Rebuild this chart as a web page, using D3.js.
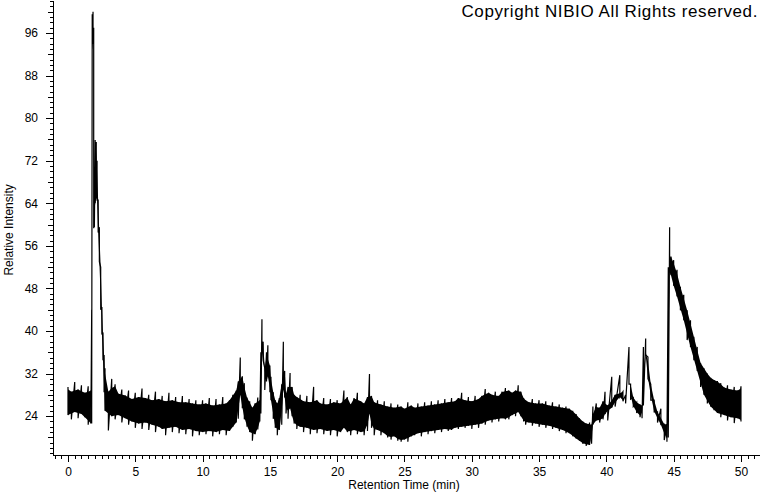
<!doctype html>
<html lang="en">

<head>
    <meta charset="utf-8">
    <title>Chromatogram</title>
    <script src="https://cdn.jsdelivr.net/npm/d3@7"></script>
    <style>
        body { margin: 0; background: #fff; }
        svg text { font-family: "Liberation Sans", Arial, sans-serif; fill: #000; }
    </style>
</head>

<body>
    <svg id="chart" width="760" height="492"></svg>
</body>

<script>
    // retention time (min), upper and lower edge of the noisy trace
    var times = [0.00, 0.25, 0.50, 0.75, 1.00, 1.25, 1.50, 1.70, 1.76, 1.80, 1.86, 1.91, 1.96, 2.02, 2.10, 2.16, 2.24, 2.33, 2.43, 2.52,
        2.60, 2.68, 2.75, 3.00, 3.25, 3.50, 3.75, 4.00, 4.25, 4.50, 4.75, 5.00, 5.25, 5.50, 5.75, 6.00, 6.25, 6.50, 6.75, 7.00,
        7.25, 7.50, 7.75, 8.00, 8.25, 8.50, 8.75, 9.00, 9.25, 9.50, 9.75, 10.00, 10.25, 10.50, 10.75, 11.00, 11.25, 11.50, 11.75, 12.00,
        12.25, 12.50, 12.65, 12.80, 12.95, 13.10, 13.30, 13.50, 13.70, 13.90, 14.10, 14.25, 14.33, 14.41, 14.50, 14.62, 14.75, 14.85, 15.00, 15.08,
        15.25, 15.40, 15.55, 15.70, 15.88, 16.00, 16.10, 16.20, 16.35, 16.50, 16.65, 16.80, 17.00, 17.25, 17.50, 17.75, 18.00, 18.25, 18.50, 18.75,
        19.00, 19.25, 19.50, 19.75, 20.00, 20.25, 20.50, 20.75, 21.00, 21.25, 21.50, 21.75, 22.00, 22.25, 22.40, 22.55, 22.75, 23.00, 23.25, 23.50,
        23.75, 24.00, 24.25, 24.50, 24.75, 25.00, 25.25, 25.50, 25.75, 26.00, 26.25, 26.50, 26.75, 27.00, 27.25, 27.50, 27.75, 28.00, 28.25, 28.50,
        28.75, 29.00, 29.25, 29.50, 29.75, 30.00, 30.25, 30.50, 30.75, 31.00, 31.25, 31.50, 31.75, 32.00, 32.25, 32.50, 32.75, 33.00, 33.25, 33.45,
        33.65, 33.85, 34.00, 34.25, 34.50, 34.75, 35.00, 35.25, 35.50, 35.75, 36.00, 36.25, 36.50, 36.75, 37.00, 37.25, 37.50, 37.75, 38.00, 38.25,
        38.50, 38.75, 38.90, 39.00, 39.25, 39.50, 39.75, 39.90, 40.10, 40.40, 40.65, 41.00, 41.23, 41.43, 41.68, 41.80, 42.00, 42.25, 42.50, 42.65,
        42.75, 42.92, 43.09, 43.30, 43.55, 43.80, 44.05, 44.30, 44.50, 44.60, 44.70, 44.80, 45.00, 45.25, 45.50, 45.75, 46.00, 46.25, 46.50, 46.75,
        47.00, 47.25, 47.50, 47.75, 48.00, 48.25, 48.50, 48.75, 49.00, 49.25, 49.50, 49.75, 50.00];

    var upper = [29.5, 28.6, 30.4, 29.0, 29.8, 28.4, 29.6, 28.8, 44.0, 99.5, 100.0, 97.0, 62.0, 75.9, 75.5, 72.0, 64.6, 59.5, 52.0, 44.5,
        39.6, 35.5, 33.0, 28.6, 31.0, 30.0, 28.2, 29.0, 27.9, 28.8, 27.2, 28.4, 27.6, 29.2, 27.4, 28.0, 27.0, 28.6, 27.2, 27.8,
        26.8, 28.4, 27.0, 27.6, 26.6, 27.8, 26.6, 27.2, 26.4, 27.0, 26.2, 27.0, 26.4, 27.4, 26.0, 27.2, 26.2, 27.6, 26.4, 27.0,
        28.0, 28.8, 30.5, 35.0, 31.5, 30.2, 27.5, 26.8, 25.6, 26.4, 27.5, 27.0, 36.0, 42.2, 38.0, 33.0, 36.0, 37.3, 33.5, 31.4,
        28.5, 27.0, 26.4, 27.4, 30.0, 38.0, 32.5, 28.3, 29.5, 32.1, 29.5, 28.0, 27.6, 28.0, 26.8, 27.8, 26.6, 29.5, 27.0, 26.4,
        27.4, 26.2, 27.2, 26.6, 27.0, 26.4, 28.8, 27.6, 26.2, 27.4, 28.4, 26.8, 26.4, 27.6, 31.9, 27.8, 26.6, 27.0, 26.2, 26.8,
        25.8, 26.4, 25.6, 26.2, 25.8, 25.4, 26.6, 26.0, 25.6, 26.4, 25.8, 26.6, 26.0, 26.8, 26.2, 27.0, 26.4, 27.2, 26.6, 27.4,
        26.8, 27.4, 28.4, 27.0, 27.6, 26.8, 27.8, 27.2, 27.8, 29.1, 28.4, 28.0, 28.6, 27.8, 28.6, 29.3, 28.8, 28.4, 28.8, 29.8,
        28.6, 27.4, 27.0, 26.6, 27.2, 26.4, 27.0, 26.4, 26.8, 26.0, 26.6, 25.8, 26.2, 25.6, 25.8, 25.4, 25.0, 24.4, 23.6, 23.0,
        22.6, 22.8, 22.4, 25.8, 26.4, 25.6, 26.8, 28.6, 26.0, 31.4, 28.0, 31.7, 28.6, 28.0, 37.0, 30.0, 27.5, 26.6, 26.2, 26.0,
        37.0, 38.6, 35.1, 30.0, 27.0, 24.8, 25.4, 22.5, 22.5, 52.0, 59.5, 54.0, 53.3, 51.5, 48.3, 46.8, 43.9, 42.0, 38.9, 37.0,
        34.0, 33.0, 32.0, 31.2, 30.8, 30.6, 30.2, 29.4, 29.8, 29.0, 29.5, 28.8, 29.6];

    var lower = [24.2, 23.4, 24.8, 23.6, 24.4, 23.8, 22.4, 22.6, 22.6, 93.0, 94.0, 59.3, 59.5, 64.0, 65.0, 64.6, 58.5, 53.0, 44.0, 39.5,
        34.5, 28.5, 25.0, 21.3, 24.0, 23.4, 24.2, 22.8, 23.6, 22.4, 23.0, 21.8, 22.6, 21.6, 22.8, 21.4, 22.4, 21.0, 22.0, 21.6,
        20.4, 21.8, 21.0, 22.0, 20.8, 21.4, 20.6, 21.6, 20.2, 21.2, 20.4, 21.0, 20.6, 21.2, 20.2, 21.0, 20.6, 21.4, 20.4, 21.2,
        22.0, 22.8, 23.5, 28.0, 25.5, 23.4, 22.0, 21.0, 19.4, 20.6, 21.5, 23.0, 24.5, 36.0, 34.5, 28.9, 30.5, 31.5, 28.5, 27.0,
        23.5, 21.8, 20.4, 21.4, 22.4, 29.0, 27.5, 24.5, 23.5, 25.5, 24.0, 22.6, 21.6, 22.0, 21.0, 21.8, 20.6, 21.4, 20.8, 21.6,
        20.6, 21.2, 20.4, 21.4, 20.2, 21.0, 21.8, 21.0, 20.4, 21.4, 20.6, 21.0, 20.4, 21.2, 24.5, 21.8, 20.4, 21.4, 20.4, 20.8,
        20.0, 19.6, 20.2, 19.4, 19.2, 19.6, 19.2, 20.2, 20.4, 20.8, 20.2, 21.0, 20.6, 21.2, 20.8, 21.4, 21.0, 21.6, 21.2, 21.4,
        21.8, 21.6, 22.0, 21.8, 22.2, 21.6, 22.4, 21.8, 22.6, 22.4, 23.2, 22.8, 23.4, 23.0, 23.6, 23.4, 23.4, 24.2, 24.0, 24.8,
        24.0, 23.0, 22.4, 22.8, 22.2, 22.6, 22.0, 22.4, 21.8, 22.2, 21.6, 21.8, 21.2, 21.4, 20.8, 20.8, 20.2, 19.8, 19.4, 18.8,
        18.4, 18.6, 18.8, 22.4, 23.2, 22.8, 23.4, 24.4, 23.2, 25.6, 25.8, 27.6, 26.8, 26.4, 30.0, 27.2, 25.8, 24.6, 23.8, 23.6,
        26.0, 35.5, 31.0, 27.0, 24.8, 22.8, 22.4, 19.5, 19.2, 20.0, 51.0, 50.5, 48.5, 46.5, 43.9, 42.0, 38.3, 37.0, 34.5, 32.5,
        29.5, 28.0, 26.4, 25.8, 25.1, 24.6, 23.8, 24.2, 23.2, 23.8, 22.7, 23.6, 23.0];

    var xMajor = [0, 5, 10, 15, 20, 25, 30, 35, 40, 45, 50];
    var yMajor = [24, 32, 40, 48, 56, 64, 72, 80, 88, 96];

    var svg = d3.select("#chart");

    var x = d3.scaleLinear().domain([-1.114, 51.34]).range([53, 759]);
    var y = d3.scaleLinear().domain([16.7, 102.2]).range([455, 0]);

    // minor / major ticks on the x axis
    var gx = svg.append("g").attr("transform", "translate(0,455)");
    gx.append("g").call(d3.axisBottom(x).tickValues(d3.range(-1, 51.01, 0.5)).tickSize(4).tickSizeOuter(0).tickFormat(""));
    gx.append("g").call(d3.axisBottom(x).tickValues(xMajor).tickSize(7).tickSizeOuter(0).tickPadding(5).tickFormat(d3.format("d")))
        .call(g => g.select(".domain").remove());

    var gy = svg.append("g").attr("transform", "translate(53,0)");
    gy.append("g").call(d3.axisLeft(y).tickValues(d3.range(17, 102.01, 1)).tickSize(3).tickSizeOuter(0).tickFormat(""));
    gy.append("g").call(d3.axisLeft(y).tickValues(d3.range(20, 102.01, 4)).tickSize(5).tickFormat(""))
        .call(g => g.select(".domain").remove());
    gy.append("g").call(d3.axisLeft(y).tickValues(yMajor).tickSize(7).tickPadding(8).tickFormat(d3.format("d")))
        .call(g => g.select(".domain").remove());

    svg.selectAll(".tick text").attr("font-family", "Liberation Sans, Arial, sans-serif").attr("font-size", 12).attr("fill", "#000");
    svg.selectAll(".tick line, .domain").attr("stroke", "#000").attr("shape-rendering", "crispEdges");

    // solid core of the noise band: below the local run of upper edges, above the local run of lower edges
    var n = times.length;
    var prev = i => Math.max(i - 1, 0), next = i => Math.min(i + 1, n - 1);
    var coreTop = times.map((t, i) => Math.min(upper[i], (upper[prev(i)] + upper[next(i)]) / 2));
    var coreBot = times.map((t, i) => Math.max(lower[i], (lower[prev(i)] + lower[next(i)]) / 2));
    var band = d3.area()
        .defined((t, i) => coreTop[i] > coreBot[i])
        .x(t => x(t)).y0((t, i) => y(coreBot[i])).y1((t, i) => y(coreTop[i]));
    svg.append("path").datum(times).attr("d", band).attr("fill", "#000");

    // the trace: at each time go to the upper edge, then straight down to the lower edge
    var pts = [];
    times.forEach((t, i) => {
        pts.push([t, upper[i]]);
        pts.push([t, lower[i]]);
    });
    var line = d3.line().x(d => x(d[0])).y(d => y(d[1]));
    svg.append("path").datum(pts).attr("d", line)
        .attr("fill", "none").attr("stroke", "#000").attr("stroke-width", 1.2);

    // titles
    svg.append("text").attr("x", x(25) - 0.5).attr("y", 489).attr("text-anchor", "middle").attr("font-size", 12)
        .text("Retention Time (min)");
    svg.append("text").attr("transform", "translate(13," + y(59) + ") rotate(-90)").attr("text-anchor", "middle").attr("font-size", 12)
        .text("Relative Intensity");
    svg.append("text").attr("x", 758).attr("y", 16.5).attr("text-anchor", "end").attr("font-size", 17)
        .attr("letter-spacing", "0.6px").text("Copyright NIBIO All Rights reserved.");
</script>

</html>
